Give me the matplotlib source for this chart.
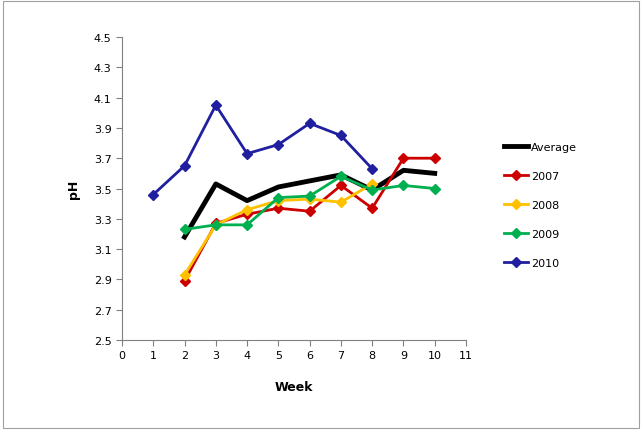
import numpy as np
import matplotlib.pyplot as plt
from matplotlib.ticker import MultipleLocator

weeks_avg = [2, 3, 4, 5, 6, 7, 8, 9, 10]
avg = [3.18, 3.53, 3.42, 3.51, 3.55, 3.59, 3.49, 3.62, 3.60]
weeks_2007 = [2, 3, 4, 5, 6, 7, 8, 9, 10]
ph_2007 = [2.89, 3.27, 3.33, 3.37, 3.35, 3.52, 3.37, 3.70, 3.70]
weeks_2008 = [2, 3, 4, 5, 6, 7, 8]
ph_2008 = [2.93, 3.26, 3.36, 3.42, 3.43, 3.41, 3.53]
weeks_2009 = [2, 3, 4, 5, 6, 7, 8, 9, 10]
ph_2009 = [3.23, 3.26, 3.26, 3.44, 3.45, 3.58, 3.49, 3.52, 3.50]
weeks_2010 = [1, 2, 3, 4, 5, 6, 7, 8]
ph_2010 = [3.46, 3.65, 4.05, 3.73, 3.79, 3.93, 3.85, 3.63]

fig = plt.figure(figsize=(6.42, 4.31), dpi=100)
ax = fig.add_axes([122/642, 1-341/431, (466-122)/642, (341-38)/431])

ax.plot(weeks_avg, avg, color='black', lw=3.5, label='Average')
ax.plot(weeks_2007, ph_2007, color='#CC0000', lw=2, marker='D', ms=5, label='2007')
ax.plot(weeks_2008, ph_2008, color='#FFC000', lw=2, marker='D', ms=5, label='2008')
ax.plot(weeks_2009, ph_2009, color='#00B050', lw=2, marker='D', ms=5, label='2009')
ax.plot(weeks_2010, ph_2010, color='#1F1FA0', lw=2, marker='D', ms=5, label='2010')

ax.set_xlim(0, 11)
ax.set_ylim(2.5, 4.5)
ax.xaxis.set_major_locator(MultipleLocator(1))
ax.set_yticks(np.linspace(2.5, 4.5, 11))
ax.yaxis.set_major_formatter(plt.FuncFormatter(lambda v, p: f'{v:.1f}'))
for s in ['top', 'right']:
    ax.spines[s].set_visible(False)
for s in ['left', 'bottom']:
    ax.spines[s].set_color('#808080')
ax.tick_params(labelsize=8, color='#808080', direction='out', length=4)
ax.set_xlabel('Week', fontsize=9, fontweight='bold', labelpad=14)
ax.set_ylabel('pH', fontsize=9, fontweight='bold', labelpad=10)

ax.legend(loc='center left', bbox_to_anchor=(1.08, 0.445), frameon=False,
          fontsize=8, labelspacing=1.7, handlelength=2.2, handletextpad=0.3)

fig.patches.append(plt.Rectangle((0.005, 0.005), 0.99, 0.99, transform=fig.transFigure,
                                 fill=False, edgecolor='#A0A0A0', lw=0.8))
fig.savefig('out.png', dpi=100)
